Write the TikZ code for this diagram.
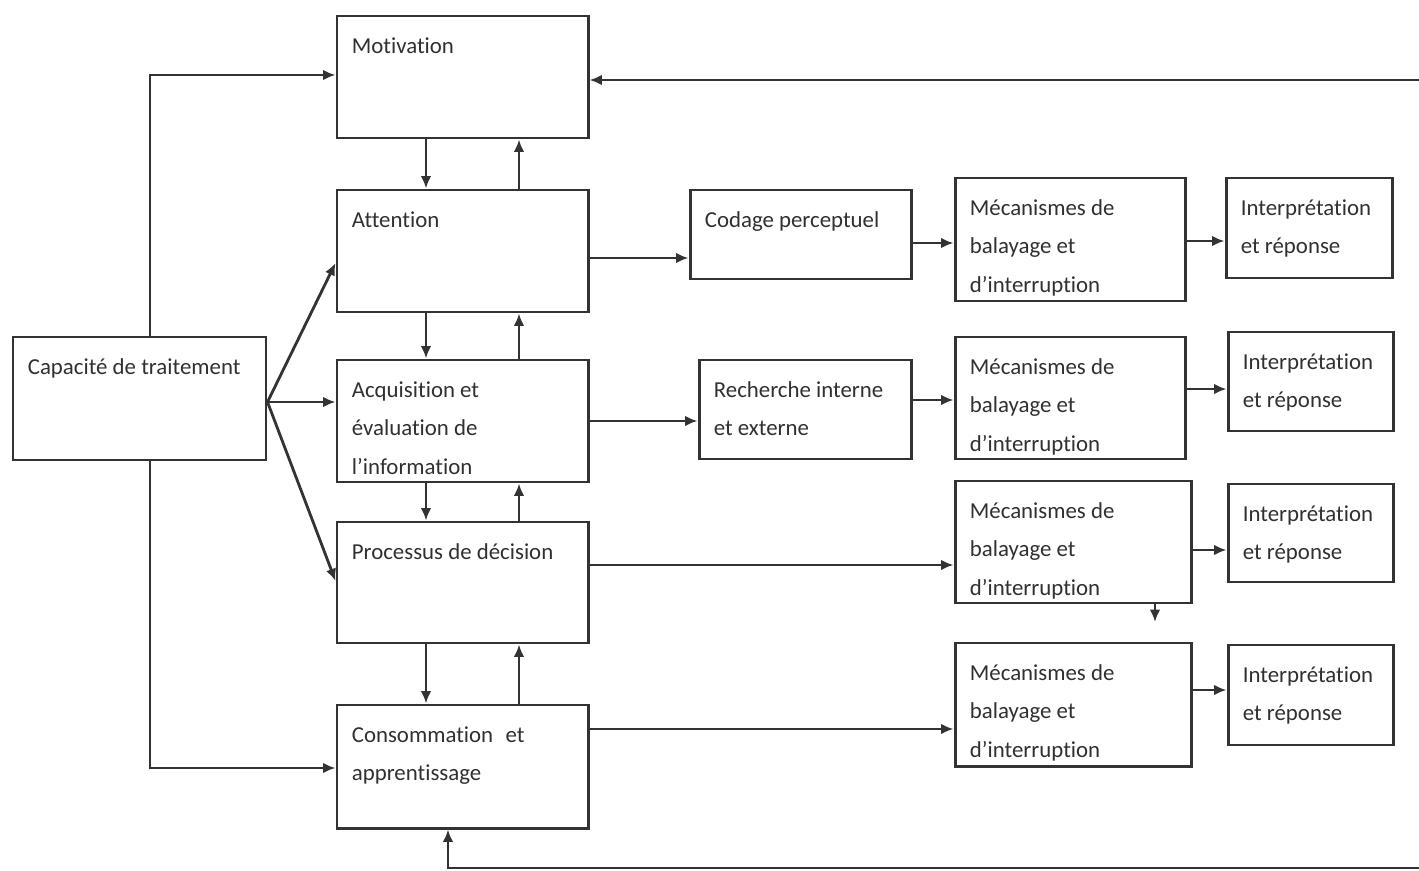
\documentclass[tikz,border=0pt]{standalone}
\usepackage{fontspec}
\setmainfont{Carlito}[Ligatures=NoCommon]
\usetikzlibrary{arrows.meta,fit,calc}
\definecolor{linec}{HTML}{333333}
\definecolor{textc}{HTML}{303030}
\tikzset{
  box/.style={draw=linec, line width=1.7pt, inner sep=0pt},
  txt/.style={anchor=north west, inner sep=0pt, align=left, text=textc,
              font=\fontsize{13pt}{21.8pt}\selectfont},
  arr/.style={draw=linec, line width=1.6pt, -{Latex[length=7pt,width=6pt]}},
}
% box from (x1,y1) to (x2,y2) with its text set in the upper left corner
\newcommand\mkbox[6]{%
  \node[box, fit={(#2,#3) (#4,#5)}] (#1) {};
  \node[txt] (#1t) at ($(#1.north west)+(16,21)$) {\rule{0pt}{10pt}#6};
}
\begin{document}
\begin{tikzpicture}[x=0.02cm, y=-0.02cm]
\useasboundingbox (0,0) rectangle (1419,871);

% left column
\mkbox{cap}{13}{337}{266}{460}{Capacité de traitement}
% central column
\mkbox{mot}{337}{16}{588}{138}{Motivation}
\mkbox{att}{337}{190}{588}{312}{Attention}
\mkbox{acq}{337}{360}{588}{482}{Acquisition et\\évaluation de\\l’information}
\mkbox{pro}{337}{522}{588}{643}{Processus de décision}
\mkbox{con}{337}{705}{588}{828}{Consommation\hspace{0.55em}et\\apprentissage}
% intermediate stages
\mkbox{cod}{690}{190}{911}{279}{Codage perceptuel}
\mkbox{rec}{699}{360}{911}{459}{Recherche interne\\et externe}
% scanning and interruption mechanisms
\mkbox{mA}{955}{178}{1185}{301}{Mécanismes de\\balayage et\\d’interruption}
\mkbox{mB}{955}{337}{1185}{459}{Mécanismes de\\balayage et\\d’interruption}
\mkbox{mC}{955}{481}{1191}{603}{Mécanismes de\\balayage et\\d’interruption}
\mkbox{mD}{955}{643}{1191}{766}{Mécanismes de\\balayage et\\d’interruption}
% interpretation and response
\mkbox{iA}{1226}{178}{1392}{278}{Interprétation\\et réponse}
\mkbox{iB}{1228}{332}{1393}{431}{Interprétation\\et réponse}
\mkbox{iC}{1228}{484}{1393}{582}{Interprétation\\et réponse}
\mkbox{iD}{1228}{645}{1393}{745}{Interprétation\\et réponse}

% processing capacity feeds motivation and consumption
\draw[arr] (cap.north -| 150,0) |- (mot.west |- 0,75);
\draw[arr] (cap.south -| 150,0) |- (con.west |- 0,768);
% processing capacity fans out to the central stages
\coordinate (capo) at (cap.east |- 0,402);
\draw[arr] (capo) -- (att.west |- 0,263);
\draw[arr] (capo) -- (acq.west |- 0,402);
\draw[arr] (capo) -- (pro.west |- 0,581);

% two-way links between the central stages
\draw[arr] (mot.south -| 426,0) -- (att.north -| 426,0);
\draw[arr] (att.north -| 519,0) -- (mot.south -| 519,0);
\draw[arr] (att.south -| 426,0) -- (acq.north -| 426,0);
\draw[arr] (acq.north -| 519,0) -- (att.south -| 519,0);
\draw[arr] (acq.south -| 426,0) -- (pro.north -| 426,0);
\draw[arr] (pro.north -| 519,0) -- (acq.south -| 519,0);
\draw[arr] (pro.south -| 426,0) -- (con.north -| 426,0);
\draw[arr] (con.north -| 519,0) -- (pro.south -| 519,0);

% rows to the right
\draw[arr] (att.east |- 0,258) -- (cod.west |- 0,258);
\draw[arr] (cod.east |- 0,243) -- (mA.west |- 0,243);
\draw[arr] (mA.east |- 0,241) -- (iA.west |- 0,241);
\draw[arr] (acq.east |- 0,421) -- (rec.west |- 0,421);
\draw[arr] (rec.east |- 0,400) -- (mB.west |- 0,400);
\draw[arr] (mB.east |- 0,389) -- (iB.west |- 0,389);
\draw[arr] (pro.east |- 0,565) -- (mC.west |- 0,565);
\draw[arr] (mC.east |- 0,550) -- (iC.west |- 0,550);
\draw[arr] (con.east |- 0,729) -- (mD.west |- 0,729);
\draw[arr] (mD.east |- 0,690) -- (iD.west |- 0,690);

% short arrow below the third mechanism box
\coordinate (mCdown) at (1155,622);
\draw[arr] (mC.south -| mCdown) -- (mCdown);

% feedback lines entering from the right edge
\coordinate (fbTop) at (1419,80);
\coordinate (fbBot) at (1419,868);
\draw[arr] (fbTop) -- (mot.east |- fbTop);
\draw[arr] (fbBot) -| (con.south -| 448,0);
\end{tikzpicture}
\end{document}
